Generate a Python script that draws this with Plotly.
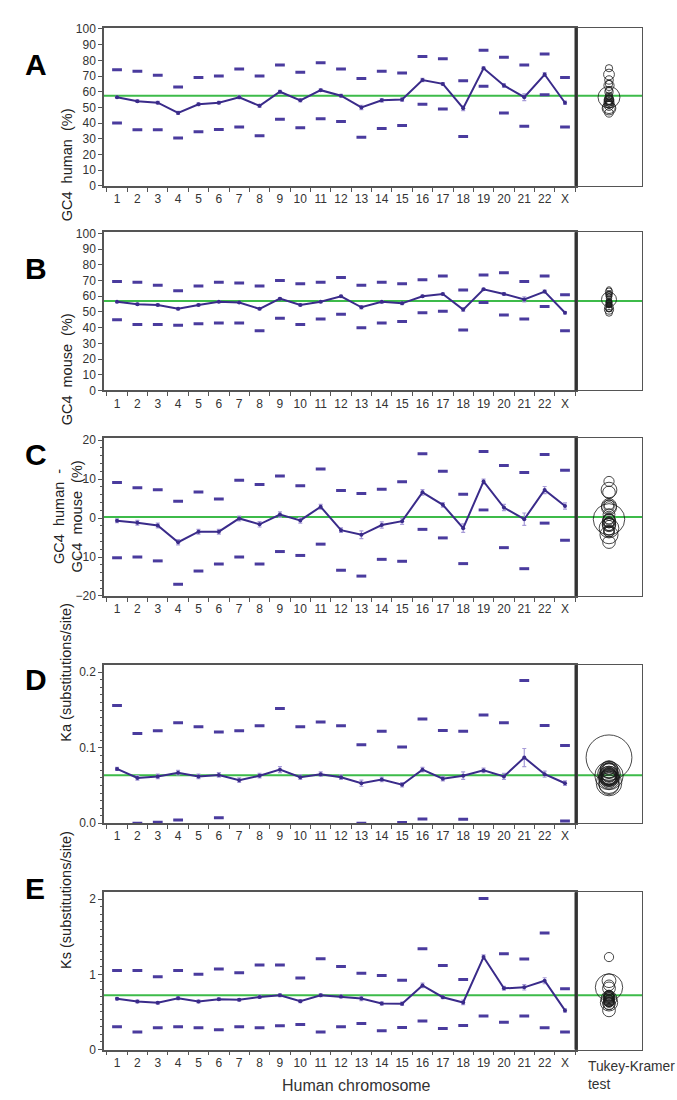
import plotly.graph_objects as go

# ---------------- data ----------------
chromosomes = ["1", "2", "3", "4", "5", "6", "7", "8", "9", "10", "11", "12",
               "13", "14", "15", "16", "17", "18", "19", "20", "21", "22", "X"]

# A: GC4 human (%)
gc4_human_mean = [56.5, 54, 53, 46.5, 52, 53, 56.5, 51, 60, 54.5, 61, 57.5,
                  50, 54.5, 55, 67.5, 65, 49.5, 75, 64, 56.5, 71, 53]
gc4_human_upper = [74, 73, 70.5, 63, 69, 70, 74.5, 70, 77, 72.5, 78.5, 74.5,
                   68.5, 73, 72, 82.5, 81, 67, 86.5, 82, 77, 84, 69]
gc4_human_lower = [40, 35.7, 35.7, 30.5, 34.5, 36, 37.5, 32, 42.5, 37, 42.7, 41,
                   31, 36.5, 38.5, 52, 49, 31.5, 63.5, 46.5, 38, 58, 37.5]
gc4_human_se = [0.6, 0.8, 0.8, 1.0, 0.9, 0.8, 0.9, 1.0, 0.9, 1.0, 0.8, 0.8,
                1.4, 1.1, 1.1, 1.0, 0.8, 1.5, 0.8, 1.2, 2.2, 1.2, 1.1]
gc4_human_radius = [1.8, 2.2, 2.3, 2.7, 2.5, 2.3, 2.5, 2.9, 2.6, 2.7, 2.2, 2.3,
                    3.9, 3.0, 3.0, 2.7, 2.3, 4.3, 2.3, 3.2, 6.9, 3.4, 3.2]
gc4_human_grand = 57.5

# B: GC4 mouse (%)
gc4_mouse_mean = [56.5, 55, 54.5, 52, 54.5, 56.5, 56, 52, 58.5, 54.5, 56.5, 60,
                  53, 56.5, 55.5, 60, 61.5, 51.5, 64.5, 61.5, 58, 63, 49.5]
gc4_mouse_upper = [69.5, 69, 67, 63.5, 66.5, 69, 68.5, 66.5, 70, 68, 69, 72,
                   67, 69, 68, 70.5, 73, 64, 73.5, 75, 69.5, 73, 61]
gc4_mouse_lower = [45, 42, 42, 41.5, 42.5, 43, 43, 38, 46, 42, 45.5, 48.5,
                   40, 43, 44, 49.5, 50.5, 38.5, 56, 48, 45.5, 53.5, 38]
gc4_mouse_se = [0.5, 0.6, 0.6, 0.7, 0.6, 0.6, 0.6, 0.7, 0.7, 0.7, 0.6, 0.6,
                1.0, 0.8, 0.8, 0.7, 0.6, 1.1, 0.6, 0.8, 1.6, 0.9, 0.8]
gc4_mouse_radius = [1.3, 1.5, 1.6, 1.9, 1.7, 1.6, 1.7, 2.0, 1.7, 1.9, 1.5, 1.6,
                    2.6, 2.0, 2.0, 1.9, 1.6, 2.9, 1.6, 2.2, 4.7, 2.3, 2.2]
gc4_mouse_grand = 57.0

# C: GC4 human - GC4 mouse (%)
gc4_diff_mean = [-0.7, -1.2, -1.9, -6.2, -3.5, -3.5, -0.1, -1.6, 0.9, -0.6, 2.9, -3.1,
                 -4.3, -1.8, -0.8, 6.6, 3.4, -2.6, 9.4, 2.7, -0.3, 7.2, 3.1]
gc4_diff_upper = [9.1, 7.8, 7.3, 4.3, 6.7, 4.9, 9.7, 8.6, 10.8, 8.3, 12.6, 7.1,
                  6.3, 7.4, 9.3, 16.5, 12.0, 6.1, 17.1, 13.5, 11.7, 16.3, 12.3]
gc4_diff_lower = [-10.2, -10.0, -11.0, -17.0, -13.6, -11.8, -10.0, -11.8, -8.6, -9.6, -6.7, -13.4,
                  -14.9, -10.6, -11.1, -2.9, -5.1, -11.7, 2.1, -7.6, -13.0, -1.3, -5.7]
gc4_diff_se = [0.5, 0.6, 0.6, 0.7, 0.6, 0.6, 0.6, 0.7, 0.7, 0.7, 0.6, 0.6,
               1.0, 0.8, 0.8, 0.7, 0.6, 1.1, 0.6, 0.8, 1.6, 0.9, 0.8]
gc4_diff_radius = [1.1, 1.3, 1.3, 1.6, 1.4, 1.3, 1.4, 1.7, 1.5, 1.6, 1.3, 1.3,
                   2.3, 1.7, 1.7, 1.6, 1.3, 2.5, 1.3, 1.9, 4.0, 2.0, 1.9]
gc4_diff_grand = 0.3

# D: Ka (substitutions/site)
ka_mean = [0.072, 0.060, 0.062, 0.067, 0.062, 0.064, 0.057, 0.063, 0.071, 0.061, 0.065, 0.061,
           0.053, 0.058, 0.051, 0.071, 0.059, 0.063, 0.070, 0.062, 0.087, 0.065, 0.053]
ka_upper = [0.156, 0.119, 0.1225, 0.133, 0.128, 0.121, 0.1225, 0.129, 0.152, 0.128, 0.134, 0.129,
            0.104, 0.122, 0.101, 0.138, 0.123, 0.122, 0.1435, 0.133, 0.189, 0.1295, 0.103]
ka_lower = [None, 0.000, 0.0013, 0.0044, None, 0.0074, None, None, None, None, None, None,
            0.000, None, 0.001, 0.0057, None, 0.0053, None, None, None, None, 0.003]
ka_se = [0.002, 0.003, 0.003, 0.003, 0.003, 0.003, 0.003, 0.003, 0.004, 0.003, 0.003, 0.003,
         0.004, 0.003, 0.003, 0.003, 0.003, 0.005, 0.003, 0.004, 0.012, 0.004, 0.003]
ka_radius = [0.008, 0.0093, 0.0099, 0.0118, 0.0105, 0.0099, 0.0105, 0.0124, 0.0112, 0.0118, 0.0093, 0.0099,
             0.0167, 0.013, 0.013, 0.0118, 0.0099, 0.0186, 0.0099, 0.0136, 0.030, 0.0149, 0.0136]
ka_grand = 0.0635

# E: Ks (substitutions/site)
ks_mean = [0.674, 0.639, 0.621, 0.683, 0.639, 0.670, 0.661, 0.700, 0.722, 0.643, 0.722, 0.705,
           0.678, 0.613, 0.608, 0.853, 0.696, 0.626, 1.23, 0.814, 0.827, 0.915, 0.52]
ks_upper = [1.05, 1.05, 0.967, 1.05, 1.002, 1.072, 1.02, 1.125, 1.125, 0.95, 1.208, 1.103,
            1.015, 0.985, 0.923, 1.34, 1.116, 0.932, 2.01, 1.274, 1.203, 1.55, 0.81]
ks_lower = [0.302, 0.232, 0.289, 0.302, 0.289, 0.263, 0.302, 0.289, 0.315, 0.333, 0.232, 0.302,
            0.346, 0.249, 0.293, 0.381, 0.28, 0.32, 0.446, 0.363, 0.446, 0.289, 0.232]
ks_se = [0.015, 0.018, 0.018, 0.02, 0.018, 0.018, 0.018, 0.02, 0.02, 0.02, 0.018, 0.018,
         0.028, 0.022, 0.022, 0.03, 0.018, 0.03, 0.03, 0.025, 0.035, 0.04, 0.022]
ks_radius = [0.049, 0.057, 0.061, 0.072, 0.065, 0.061, 0.065, 0.076, 0.068, 0.072, 0.057, 0.061,
             0.103, 0.080, 0.080, 0.072, 0.061, 0.114, 0.061, 0.084, 0.18, 0.091, 0.084]
ks_grand = 0.722

# ---------------- styling ----------------
FONT = "Liberation Sans, Arial, Helvetica, sans-serif"
LINE_COLOR = "#3a2b8a"
DASH_COLOR = "#4a3b9e"
ERR_COLOR = "#a79bd8"
GREEN = "#3dbb4a"
FRAME = "#555555"
W, H = 677, 1100
SP = "\u00a0"

MAIN_PX = (104, 576)
SIDE_PX = (576, 642)
MAIN_X = (MAIN_PX[0] / W, MAIN_PX[1] / W)
SIDE_X = (SIDE_PX[0] / W, SIDE_PX[1] / W)

panels = [
    dict(letter="A", top=22, bottom=182, rng=[0, 100.8], dtick=10, minor=None,
         mean=gc4_human_mean, upper=gc4_human_upper, lower=gc4_human_lower,
         se=gc4_human_se, radius=gc4_human_radius, grand=gc4_human_grand,
         title=f"GC4{SP*2}human{SP*2}(%)", title_x=57, letter_y=40, fmt=None),
    dict(letter="B", top=229, bottom=389, rng=[0, 100.8], dtick=10, minor=None,
         mean=gc4_mouse_mean, upper=gc4_mouse_upper, lower=gc4_mouse_lower,
         se=gc4_mouse_se, radius=gc4_mouse_radius, grand=gc4_mouse_grand,
         title=f"GC4{SP*2}mouse{SP*2}(%)", title_x=57, letter_y=247, fmt=None),
    dict(letter="C", top=437, bottom=597, rng=[-20, 20.6], dtick=10, minor=2,
         mean=gc4_diff_mean, upper=gc4_diff_upper, lower=gc4_diff_lower,
         se=gc4_diff_se, radius=gc4_diff_radius, grand=gc4_diff_grand,
         title=f"GC4{SP*2}human{SP*2}-<br>GC4{SP*2}mouse{SP*2}(%)", title_x=49,
         letter_y=454, fmt=None),
    dict(letter="D", top=667, bottom=827, rng=[0, 0.2095], dtick=0.1, minor=0.01,
         mean=ka_mean, upper=ka_upper, lower=ka_lower,
         se=ka_se, radius=ka_radius, grand=ka_grand,
         title="Ka (substitutions/site)", title_x=56, letter_y=682, fmt=".1f"),
    dict(letter="E", top=897, bottom=1056, rng=[0, 2.09], dtick=1, minor=0.1,
         mean=ks_mean, upper=ks_upper, lower=ks_lower,
         se=ks_se, radius=ks_radius, grand=ks_grand,
         title="Ks (substitutions/site)", title_x=56, letter_y=912, fmt=None),
]


def ref(letter, n):
    """Trace/shape reference for axis number n ('x', 'x2', ...)."""
    return letter if n == 1 else f"{letter}{n}"


def key(letter, n):
    """Layout key for axis number n ('xaxis', 'xaxis2', ...)."""
    return f"{letter}axis" if n == 1 else f"{letter}axis{n}"


fig = go.Figure()
layout_axes = {}
shapes = []
annotations = []

for i, p in enumerate(panels):
    m = 2 * i + 1      # main subplot axis number
    s = 2 * i + 2      # side (comparison circles) axis number
    ydom = [1 - p["bottom"] / H, 1 - p["top"] / H]
    xm, ym = ref("x", m), ref("y", m)
    xs, ys = ref("x", s), ref("y", s)

    # upper / lower range dashes
    for vals in (p["upper"], p["lower"]):
        fig.add_trace(go.Scatter(
            x=chromosomes, y=vals, mode="markers", xaxis=xm, yaxis=ym,
            marker=dict(symbol="line-ew", size=7, line=dict(width=3, color=DASH_COLOR)),
            showlegend=False, hoverinfo="skip", cliponaxis=True))

    # mean line with standard-error bars
    fig.add_trace(go.Scatter(
        x=chromosomes, y=p["mean"], mode="lines+markers", xaxis=xm, yaxis=ym,
        line=dict(color=LINE_COLOR, width=2),
        marker=dict(size=4, color=LINE_COLOR),
        error_y=dict(type="data", array=p["se"], visible=True,
                     color=ERR_COLOR, thickness=1.2, width=2),
        showlegend=False))

    # grand mean across both boxes
    for xr, yr in ((f"{xm} domain", ym), (f"{xs} domain", ys)):
        shapes.append(dict(type="line", xref=xr, yref=yr,
                           x0=0, x1=1, y0=p["grand"], y1=p["grand"],
                           line=dict(color=GREEN, width=2), layer="below"))

    # Tukey-Kramer comparison circles (side x axis uses the same units per pixel as y)
    for mu, r in zip(p["mean"], p["radius"]):
        shapes.append(dict(type="circle", xref=xs, yref=ys,
                           x0=-r, x1=r, y0=mu - r, y1=mu + r,
                           line=dict(color="#1a1a1a", width=0.8)))

    # heavy divider between the two boxes
    shapes.append(dict(type="line", xref="paper", yref=f"{ym} domain",
                       x0=MAIN_X[1], x1=MAIN_X[1], y0=0, y1=1,
                       line=dict(color="#333333", width=3)))

    layout_axes[key("x", m)] = dict(
        domain=list(MAIN_X), anchor=ym, type="category", categoryorder="array",
        categoryarray=chromosomes, range=[-0.64, 22.54], tickson="boundaries",
        tickangle=0, ticks="outside", ticklen=4, tickcolor=FRAME, showline=True,
        mirror=True, linecolor=FRAME, linewidth=1.5, showgrid=False, zeroline=False,
        ticklabelstandoff=1,
        tickfont=dict(family=FONT, size=12, color="#333333"))
    yax = dict(
        domain=ydom, anchor=xm, range=p["rng"], dtick=p["dtick"], tick0=0,
        ticks="outside", ticklen=4, tickcolor=FRAME, showline=True, mirror=True,
        linecolor=FRAME, linewidth=1.5, showgrid=False, zeroline=False,
        tickfont=dict(family=FONT, size=12, color="#333333"))
    if p["minor"]:
        yax["minor"] = dict(dtick=p["minor"], ticks="outside", ticklen=2, tickcolor=FRAME)
    if p["fmt"]:
        yax["tickformat"] = p["fmt"]
    layout_axes[key("y", m)] = yax

    # side box: x range chosen so one x unit spans as many pixels as one y unit
    span = p["rng"][1] - p["rng"][0]
    half = span * (SIDE_PX[1] - SIDE_PX[0]) / (p["bottom"] - p["top"]) / 2
    layout_axes[key("x", s)] = dict(
        domain=list(SIDE_X), anchor=ys, range=[-half, half],
        showticklabels=False, ticks="", showline=True, mirror=True,
        linecolor=FRAME, linewidth=1.3, showgrid=False, zeroline=False)
    layout_axes[key("y", s)] = dict(
        domain=ydom, anchor=xs, range=p["rng"], showticklabels=False, ticks="",
        showline=True, mirror=True, linecolor=FRAME, linewidth=1.3,
        showgrid=False, zeroline=False)

    # panel letter and y-axis title
    annotations.append(dict(text=f"<b>{p['letter']}</b>", xref="paper", yref="paper",
                            x=23 / W, y=1 - p["letter_y"] / H, showarrow=False,
                            font=dict(family=FONT, size=30, color="black")))
    annotations.append(dict(text=p["title"], xref="paper", yref="paper",
                            x=p["title_x"] / W, y=1 - (p["top"] + p["bottom"]) / 2 / H,
                            textangle=-90, showarrow=False,
                            font=dict(family=FONT, size=14.5, color="#222222")))

annotations.append(dict(text="Human chromosome", xref="paper", yref="paper",
                        x=356 / W, y=1 - 1092 / H, xanchor="center", yanchor="middle",
                        showarrow=False,
                        font=dict(family=FONT, size=16, color="#333333")))
annotations.append(dict(text="Tukey-Kramer<br>test", xref="paper", yref="paper",
                        x=586 / W, y=1 - 1064 / H, xanchor="left", yanchor="top",
                        align="left", showarrow=False,
                        font=dict(family=FONT, size=13.8, color="#333333")))

fig.update_layout(
    width=W, height=H, margin=dict(l=0, r=0, t=0, b=0),
    paper_bgcolor="white", plot_bgcolor="white",
    shapes=shapes, annotations=annotations, showlegend=False,
    **layout_axes)

fig.write_html("out.html")
